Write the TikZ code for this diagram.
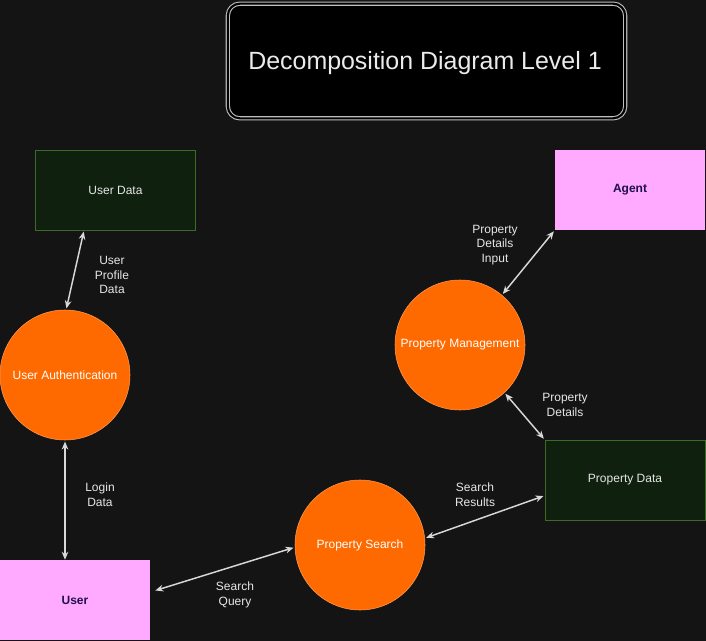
\documentclass[tikz,border=0pt]{standalone}
\usepackage{fontspec}
\setmainfont{Liberation Sans}
\usetikzlibrary{
	arrows.meta,
	positioning,
	calc,
}
\definecolor{canvas}{HTML}{141414}
\definecolor{storefill}{HTML}{0F200F}
\definecolor{storeline}{HTML}{3D6B26}
\definecolor{procfill}{HTML}{FF6A00}
\definecolor{procline}{HTML}{FF9A55}
\definecolor{actorfill}{HTML}{FFAAFF}
\definecolor{actortext}{HTML}{1E0F4A}
\definecolor{flowline}{HTML}{D8D8D8}
\definecolor{labeltext}{HTML}{E6E6E6}
\tikzset{datastore/.style={
		% The shape:
		rectangle,
		% The size:
		minimum width=120pt,minimum height=60pt,
		% The border:
		thin,draw=storeline,
		% The filling:
		fill=storefill,
		% the text
		text=labeltext,font=\fontsize{9}{11}\selectfont,
}}
\tikzset{process/.style={
		% The shape:
		circle,
		% The size:
		minimum size=97.5pt,inner sep=0pt,
		% The rest
		thin,draw=procline,fill=procfill,
		text=white,font=\fontsize{9}{11}\selectfont,
}}
\tikzset{actor/.style={
		% The shape:
		rectangle,
		% The size:
		minimum width=112.5pt,minimum height=60pt,
		% The rest
		draw=none,fill=actorfill,
		text=actortext,font=\bfseries\fontsize{9}{11}\selectfont,
}}
\tikzset{flowlabel/.style={
		align=center,text=labeltext,inner sep=1pt,
		font=\fontsize{9}{11}\selectfont,
}}

\begin{document}
\begin{tikzpicture}[x=0.75pt,y=-0.75pt,>={Stealth[length=6pt,width=5pt]},
	flow/.style={<->,draw=flowline,line width=1.1pt}]
	% canvas
	\useasboundingbox (0,0) rectangle (706,641);
	\fill[canvas] (0,0) rectangle (706,641);
	% title
	\node (title) [rectangle,rounded corners=9pt,minimum width=298pt,minimum height=86pt,
		draw=white!75!black,line width=0.8pt,double=black,double distance=1.6pt,fill=black,
		text=white!92!black,font=\fontsize{18.7}{22}\selectfont] at (426.5,61) {};
	\node (titletext) [text=white!92!black,font=\fontsize{18.7}{22}\selectfont] at (425,63) {Decomposition Diagram Level 1};
	% stores and actors
	\node (udata) [datastore] at (115.5,190) {User Data};
	\node (pdata) [datastore] at (625,480) {Property Data};
	\node (agent) [actor] at (630,190) {Agent};
	\node (user) [actor] at (75,600) {User};
	% processes
	\node (auth) [process] at (65,375) {User Authentication};
	\node (manage) [process] at (460,345) {Property Management};
	\node (search) [process] at (360,545) {Property Search};
	% flows
	\draw [flow,shorten <=1pt,shorten >=1pt] (udata.232) -- (auth.89);
	\draw [flow,shorten <=1pt] (auth.south) -- (auth.south |- user.north);
	\draw [flow,shorten <=4pt,shorten >=1pt] (user.6) -- (search.182);
	\draw [flow,shorten <=1pt,shorten >=1pt] (search.6) -- (pdata.191);
	\draw [flow,shorten <=1pt,shorten >=1pt] (manage.313) -- (pdata.north west);
	\draw [flow,shorten <=1pt,shorten >=1pt] (manage.50) -- (agent.south west);
	% flow labels
	\node (lprofile) [flowlabel] at (112,275) {User\\Profile\\Data};
	\node (llogin) [flowlabel] at (100,495) {Login\\Data};
	\node (lquery) [flowlabel] at (235,595) {Search\\Query};
	\node (lresults) [flowlabel] at (475,495) {Search\\Results};
	\node (ldetails) [flowlabel] at (565,405) {Property\\Details};
	\node (linput) [flowlabel] at (495,245) {Property\\Details\\Input};
\end{tikzpicture}
\end{document}
